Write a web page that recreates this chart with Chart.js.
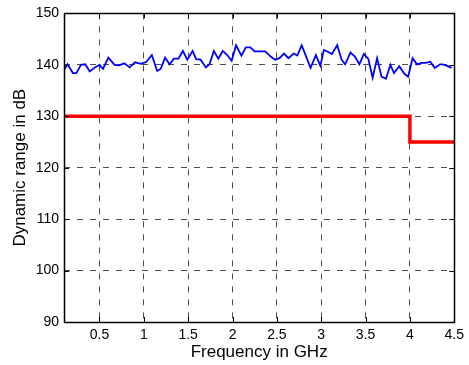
<!DOCTYPE html>
<html>
<head>
<meta charset="utf-8">
<script src="https://cdn.jsdelivr.net/npm/chart.js@4/dist/chart.umd.min.js"></script>
<style>
    html, body { margin: 0; padding: 0; background: #fff; }
    #wrap { width: 469px; height: 365px; }
</style>
</head>
<body>
<div id="wrap"><canvas id="chart" width="469" height="365"></canvas></div>
<script>
// measured dynamic range (blue trace)
const freqGHz = [
    0.10, 0.14, 0.20, 0.24, 0.29, 0.34, 0.39, 0.45, 0.50, 0.54,
    0.60, 0.67, 0.72, 0.78, 0.84, 0.90, 0.97, 1.03, 1.09, 1.15,
    1.19, 1.24, 1.29, 1.34, 1.39, 1.44, 1.49, 1.55, 1.59, 1.64,
    1.70, 1.74, 1.79, 1.84, 1.89, 1.94, 1.99, 2.04, 2.10, 2.15,
    2.20, 2.25, 2.37, 2.43, 2.48, 2.53, 2.58, 2.63, 2.69, 2.73,
    2.78, 2.83, 2.88, 2.94, 2.99, 3.03, 3.08, 3.12, 3.18, 3.23,
    3.27, 3.33, 3.38, 3.43, 3.48, 3.53, 3.58, 3.63, 3.68, 3.73,
    3.78, 3.82, 3.88, 3.94, 3.98, 4.03, 4.08, 4.13, 4.18, 4.23,
    4.28, 4.34, 4.37, 4.42, 4.47
];
const dynRangeDb = [
    139.0, 140.1, 138.4, 138.4, 140.0, 140.1, 138.7, 139.5, 140.0, 139.2,
    141.4, 140.0, 139.9, 140.3, 139.5, 140.5, 140.2, 140.6, 141.9, 138.8,
    139.2, 141.4, 140.1, 141.2, 141.2, 142.7, 141.0, 142.7, 141.1, 141.0,
    139.5, 140.1, 142.7, 141.2, 142.7, 141.9, 140.8, 143.8, 141.8, 143.4,
    143.4, 142.6, 142.6, 141.6, 141.0, 141.3, 142.2, 141.3, 142.2, 141.8,
    143.8, 141.6, 139.4, 141.9, 139.8, 142.9, 142.5, 142.1, 143.8, 141.0,
    140.1, 142.4, 141.6, 140.1, 142.1, 141.2, 137.5, 141.3, 137.7, 137.3,
    140.0, 138.4, 139.7, 138.2, 137.7, 141.3, 140.1, 140.4, 140.4, 140.6,
    139.4, 140.1, 140.1, 139.8, 139.4
];

// requirement (red step)
const limitFreq = [0.1, 4.0, 4.0, 4.5];
const limitDb = [130, 130, 125, 125];

const xTicks = [0.5, 1, 1.5, 2, 2.5, 3, 3.5, 4, 4.5];
const yTicks = [90, 100, 110, 120, 130, 140, 150];

const toPoints = (xs, ys) => xs.map((x, i) => ({ x, y: ys[i] }));

// box around the plot area plus the small inward tick marks
const frame = {
    id: "frame",
    afterDraw(chart) {
        const { ctx, chartArea: a, scales } = chart;
        ctx.save();
        ctx.strokeStyle = "#000";
        ctx.lineWidth = 1;
        ctx.beginPath();
        xTicks.forEach(v => {
            const px = Math.round(scales.x.getPixelForValue(v)) + 0.5;
            ctx.moveTo(px, a.bottom); ctx.lineTo(px, a.bottom - 5);
            ctx.moveTo(px, a.top); ctx.lineTo(px, a.top + 5);
        });
        yTicks.forEach(v => {
            const py = Math.round(scales.y.getPixelForValue(v)) + 0.5;
            ctx.moveTo(a.left, py); ctx.lineTo(a.left + 5, py);
            ctx.moveTo(a.right, py); ctx.lineTo(a.right - 5, py);
        });
        ctx.stroke();
        ctx.lineWidth = 1.5;
        ctx.strokeRect(Math.round(a.left) + 0.5, Math.round(a.top) + 0.5,
            Math.round(a.right - a.left), Math.round(a.bottom - a.top));
        ctx.restore();
    }
};

const font = { family: "'Liberation Sans', Arial, sans-serif", size: 14 };
const gridOpts = { color: "rgba(0,0,0,0.7)", lineWidth: 1, drawTicks: false };

new Chart(document.getElementById("chart"), {
    type: "line",
    data: {
        datasets: [
            {
                label: "Dynamic range",
                data: toPoints(freqGHz, dynRangeDb),
                borderColor: "#0000ff",
                borderWidth: 1.8,
                pointRadius: 0,
                tension: 0
            },
            {
                label: "Requirement",
                data: toPoints(limitFreq, limitDb),
                borderColor: "#ff0000",
                borderWidth: 3.5,
                pointRadius: 0,
                tension: 0
            }
        ]
    },
    options: {
        responsive: false,
        animation: false,
        layout: { padding: { top: 13, right: 12, left: 0, bottom: 0 } },
        plugins: { legend: { display: false }, tooltip: { enabled: false } },
        scales: {
            x: {
                type: "linear",
                min: 0.1,
                max: 4.5,
                afterBuildTicks: s => { s.ticks = xTicks.map(value => ({ value })); },
                afterFit: s => { s.height = 43; },
                grid: gridOpts,
                border: { display: false, dash: [6, 7] },
                ticks: { color: "#000", font, padding: 5, maxRotation: 0, callback: v => String(v) },
                title: {
                    display: true,
                    text: "Frequency in GHz",
                    color: "#000",
                    font: { family: font.family, size: 17 },
                    padding: { top: 0, bottom: 2 }
                }
            },
            y: {
                min: 90,
                max: 150,
                afterBuildTicks: s => { s.ticks = yTicks.map(value => ({ value })); },
                afterFit: s => { s.width = 64; },
                grid: gridOpts,
                border: { display: false, dash: [6, 7] },
                ticks: { color: "#000", font, padding: 5 },
                title: {
                    display: true,
                    text: "Dynamic range in dB",
                    color: "#000",
                    font: { family: font.family, size: 17 },
                    padding: { top: 10, bottom: 0 }
                }
            }
        }
    },
    plugins: [frame]
});
</script>
</body>
</html>
